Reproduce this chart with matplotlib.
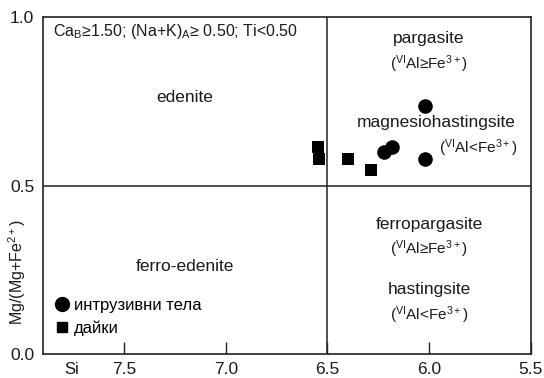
import matplotlib
matplotlib.use("Agg")
import matplotlib.pyplot as plt
from matplotlib.lines import Line2D

plt.rcParams['font.family'] = ['Liberation Sans', 'DejaVu Sans']
plt.rcParams['mathtext.fontset'] = 'custom'
plt.rcParams['mathtext.rm'] = 'Liberation Sans'
plt.rcParams['mathtext.it'] = 'Liberation Sans:italic'
plt.rcParams['mathtext.bf'] = 'Liberation Sans:bold'

# Data
intrusive_si = [6.02, 6.02, 6.18, 6.22]
intrusive_mg = [0.737, 0.580, 0.615, 0.600]
dyke_si = [6.545, 6.54, 6.40, 6.285]
dyke_mg = [0.615, 0.580, 0.580, 0.546]

xticks = [7.5, 7.0, 6.5, 6.0, 5.5]
yticks = [0.0, 0.5, 1.0]
si_boundary = 6.5
mg_boundary = 0.5

TXT = '#1a1a1a'

fig = plt.figure(figsize=(5.44, 3.78), dpi=100)
ax = fig.add_axes([42.7/544, 1-354/378, (530.7-42.7)/544, (354-17)/378])
ax.set_xlim(7.9, 5.5)
ax.set_ylim(0.0, 1.0)

for s in ax.spines.values():
    s.set_linewidth(1.2)
    s.set_color('#222222')

ax.axvline(si_boundary, color='#222222', lw=1.1)
ax.axhline(mg_boundary, color='#222222', lw=1.1)

ax.set_xticks(xticks)
ax.set_xticklabels(['%.1f' % v for v in xticks])
ax.set_yticks(yticks)
ax.set_yticklabels(['%.1f' % v for v in yticks])
ax.tick_params(axis='x', direction='in', length=9, width=1, labelsize=12.5,
               pad=6, colors='#222222', labelcolor=TXT)
ax.tick_params(axis='y', direction='in', length=0, labelsize=12.5, pad=6,
               labelcolor=TXT)

ax.scatter(intrusive_si, intrusive_mg, marker='o', s=110, color='black',
           zorder=3, linewidths=0)
ax.scatter(dyke_si, dyke_mg, marker='s', s=75, color='black',
           zorder=3, linewidths=0)

fs = 12.5
ax.text(0.021, 0.985, r'Ca$_\mathrm{B}$≥1.50; (Na+K)$_\mathrm{A}$≥ 0.50; Ti<0.50',
        transform=ax.transAxes, fontsize=11.5, color=TXT, va='top', ha='left')
ax.text(7.2, 0.76, 'edenite', fontsize=fs, color=TXT, ha='center', va='center')
ax.text(7.2, 0.26, 'ferro-edenite', fontsize=fs, color=TXT, ha='center', va='center')
ax.text(6.0, 0.935, 'pargasite', fontsize=fs, color=TXT, ha='center', va='center')
ax.text(6.0, 0.86, r'($^\mathrm{VI}$Al≥Fe$^\mathrm{3+}$)', fontsize=11, color=TXT,
        ha='center', va='center')
ax.text(5.965, 0.686, 'magnesiohastingsite', fontsize=fs, color=TXT,
        ha='center', va='center')
ax.text(5.76, 0.612, r'($^\mathrm{VI}$Al<Fe$^\mathrm{3+}$)', fontsize=11, color=TXT,
        ha='center', va='center')
ax.text(6.0, 0.383, 'ferropargasite', fontsize=fs, color=TXT, ha='center', va='center')
ax.text(6.0, 0.312, r'($^\mathrm{VI}$Al≥Fe$^\mathrm{3+}$)', fontsize=11, color=TXT,
        ha='center', va='center')
ax.text(6.0, 0.19, 'hastingsite', fontsize=fs, color=TXT, ha='center', va='center')
ax.text(6.0, 0.115, r'($^\mathrm{VI}$Al<Fe$^\mathrm{3+}$)', fontsize=11, color=TXT,
        ha='center', va='center')

handles = [
    Line2D([], [], marker='o', color='black', linestyle='none', markersize=10),
    Line2D([], [], marker='s', color='black', linestyle='none', markersize=7.5),
]
ax.legend(handles, ['интрузивни тела', 'дайки'], loc='lower left',
          bbox_to_anchor=(-0.012, 0.008), frameon=False, fontsize=12,
          handletextpad=0.15, handlelength=1.2, labelspacing=0.45,
          borderaxespad=0.5)

fig.text(72/544, 1-370/378, 'Si', fontsize=12, color=TXT, ha='center', va='center')
fig.text(17/544, 1-272/378, r'Mg/(Mg+Fe$^\mathrm{2+}$)', fontsize=11.5, color=TXT,
         rotation=90, ha='center', va='center')

fig.savefig('out.png', dpi=100)
